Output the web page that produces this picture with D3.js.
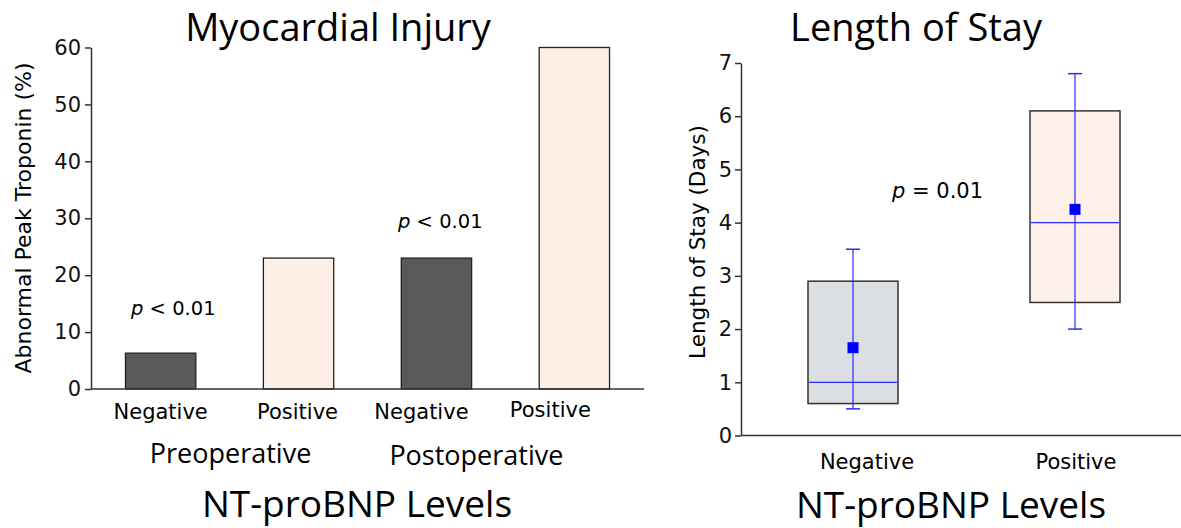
<!DOCTYPE html>
<html>
<head>
<meta charset="utf-8">
<script src="https://cdn.jsdelivr.net/npm/d3@7"></script>
<style>
  body { margin: 0; background: #fff; }
</style>
</head>
<body>
<div id="chart"></div>
<script>
// left panel: percent with abnormal peak troponin
const injuryCats = ["Pre-Neg", "Pre-Pos", "Post-Neg", "Post-Pos"];
const injuryLabels = ["Negative", "Positive", "Negative", "Positive"];
const injuryValues = [6.3, 23, 23, 60];
const injuryGroups = ["Preoperative", "Postoperative"];
const injuryTicks = [0, 10, 20, 30, 40, 50, 60];

// right panel: length of stay boxes
const stayCats = ["Negative", "Positive"];
const stayQ1 = [0.6, 2.5];
const stayQ3 = [2.9, 6.1];
const stayMedian = [1.0, 4.0];
const stayMean = [1.65, 4.25];
const stayMin = [0.5, 2.0];
const stayMax = [3.5, 6.8];
const stayTicks = [0, 1, 2, 3, 4, 5, 6, 7];

const W = 1181, H = 528;
const svg = d3.select("#chart").append("svg")
  .attr("width", W).attr("height", H);

const sans = "'DejaVu Sans', Arial, sans-serif";
const cal = "'Open Sans', 'Noto Sans', sans-serif";
const axisCol = "#333";

// ---------- left chart ----------
const x1 = d3.scaleBand().domain(injuryCats).range([91, 644]).paddingInner(0.49).paddingOuter(0.25);
const y1 = d3.scaleLinear().domain([0, 60]).range([389, 47.5]);

const g1 = svg.append("g");
g1.selectAll("rect.bar")
  .data(injuryValues)
  .enter().append("rect")
  .attr("class", "bar")
  .attr("x", (d, i) => x1(injuryCats[i]))
  .attr("width", x1.bandwidth())
  .attr("y", d => y1(d))
  .attr("height", d => y1(0) - y1(d))
  .attr("fill", (d, i) => i % 2 == 0 ? "#595959" : "#fdefe6")
  .attr("stroke", "#222")
  .attr("stroke-width", 1.3);

const ax1 = g1.append("g")
  .attr("transform", "translate(91,0)")
  .call(d3.axisLeft(y1).tickValues(injuryTicks).tickSize(6).tickPadding(4).tickSizeOuter(0));
ax1.selectAll("text").attr("font-size", 21).attr("font-family", sans).attr("fill", "#111");
ax1.selectAll("line, path").attr("stroke", axisCol).attr("stroke-width", 1.5);

g1.append("line")
  .attr("x1", 91).attr("x2", 644)
  .attr("y1", y1(0)).attr("y2", y1(0))
  .attr("stroke", axisCol).attr("stroke-width", 1.5);

// labels sit a little left of the bars in the original
const catShift = [0, -1, -15, -24];
g1.selectAll("text.cat")
  .data(injuryLabels)
  .enter().append("text")
  .attr("class", "cat")
  .attr("x", (d, i) => x1(injuryCats[i]) + x1.bandwidth() / 2 + catShift[i])
  .attr("y", (d, i) => i < 3 ? 419 : 417)
  .attr("text-anchor", "middle")
  .attr("font-family", sans).attr("font-size", 21)
  .text(d => d);

g1.selectAll("text.grp")
  .data(injuryGroups)
  .enter().append("text")
  .attr("class", "grp")
  .attr("x", (d, i) => (x1(injuryCats[i * 2]) + x1(injuryCats[i * 2 + 1]) + x1.bandwidth()) / 2 + (i == 0 ? 1 : -29))
  .attr("y", (d, i) => 463 + i * 2)
  .attr("text-anchor", "middle")
  .attr("font-family", cal).attr("font-size", 27)
  .text(d => d);

g1.append("text")
  .attr("x", 23).attr("y", 218)
  .attr("transform", "rotate(-90,23,218)")
  .attr("text-anchor", "middle").attr("dy", "0.35em")
  .attr("font-family", sans).attr("font-size", 22)
  .text("Abnormal Peak Troponin (%)");

g1.append("text")
  .attr("x", 338).attr("y", 41)
  .attr("text-anchor", "middle")
  .attr("font-family", cal).attr("font-size", 38)
  .text("Myocardial Injury");

g1.append("text")
  .attr("x", 357).attr("y", 517)
  .attr("text-anchor", "middle")
  .attr("font-family", cal).attr("font-size", 37)
  .text("NT-proBNP Levels");

function pText(g, x, y, rest, size) {
  const t = g.append("text").attr("x", x).attr("y", y)
    .attr("font-family", sans).attr("font-size", size);
  t.append("tspan").attr("font-style", "italic").text("p");
  t.append("tspan").text(rest);
}
pText(g1, 131, 315, " < 0.01", 19.5);
pText(g1, 398, 228, " < 0.01", 19.5);

// ---------- right chart ----------
const x2 = d3.scalePoint().domain(stayCats).range([853, 1075]);
const y2 = d3.scaleLinear().domain([0, 7]).range([435.5, 63]);
const g2 = svg.append("g");
const bw = 90;
const cx = i => x2(stayCats[i]);
const blue = "#2a2aff";

g2.selectAll("rect.box")
  .data(stayCats)
  .enter().append("rect")
  .attr("class", "box")
  .attr("x", d => x2(d) - bw / 2)
  .attr("width", bw)
  .attr("y", (d, i) => y2(stayQ3[i]))
  .attr("height", (d, i) => y2(stayQ1[i]) - y2(stayQ3[i]))
  .attr("fill", (d, i) => i == 0 ? "#dbdee3" : "#fdf0e8")
  .attr("stroke", "#333").attr("stroke-width", 1.5);

g2.selectAll("line.med")
  .data(stayMedian)
  .enter().append("line")
  .attr("x1", (d, i) => cx(i) - bw / 2 + 1)
  .attr("x2", (d, i) => cx(i) + bw / 2 - 1)
  .attr("y1", d => y2(d)).attr("y2", d => y2(d))
  .attr("stroke", blue).attr("stroke-width", 1.2);

g2.selectAll("line.whisk")
  .data(stayCats)
  .enter().append("line")
  .attr("x1", (d, i) => cx(i)).attr("x2", (d, i) => cx(i))
  .attr("y1", (d, i) => y2(stayMin[i])).attr("y2", (d, i) => y2(stayMax[i]))
  .attr("stroke", blue).attr("stroke-width", 1.2);

[stayMin, stayMax].forEach(arr => {
  g2.selectAll(null)
    .data(arr)
    .enter().append("line")
    .attr("x1", (d, i) => cx(i) - 7).attr("x2", (d, i) => cx(i) + 7)
    .attr("y1", d => y2(d)).attr("y2", d => y2(d))
    .attr("stroke", blue).attr("stroke-width", 1.5);
});

g2.selectAll("rect.mean")
  .data(stayMean)
  .enter().append("rect")
  .attr("x", (d, i) => cx(i) - 5.5)
  .attr("y", d => y2(d) - 5.5)
  .attr("width", 11).attr("height", 11)
  .attr("fill", "#0000ff");

const ax2 = g2.append("g")
  .attr("transform", "translate(741,0)")
  .call(d3.axisLeft(y2).tickValues(stayTicks).tickFormat(d3.format("d"))
    .tickSize(6).tickPadding(3).tickSizeOuter(0));
ax2.selectAll("text").attr("font-size", 21).attr("font-family", sans).attr("fill", "#111");
ax2.selectAll("line, path").attr("stroke", axisCol).attr("stroke-width", 1.5);

g2.append("line")
  .attr("x1", 741).attr("x2", 1181)
  .attr("y1", y2(0)).attr("y2", y2(0))
  .attr("stroke", axisCol).attr("stroke-width", 1.5);

g2.selectAll("text.cat")
  .data(stayCats)
  .enter().append("text")
  .attr("x", (d, i) => cx(i) + (i == 0 ? 14 : 1))
  .attr("y", 469)
  .attr("text-anchor", "middle")
  .attr("font-family", sans).attr("font-size", 21)
  .text(d => d);

g2.append("text")
  .attr("x", 697).attr("y", 242)
  .attr("transform", "rotate(-90,697,242)")
  .attr("text-anchor", "middle").attr("dy", "0.35em")
  .attr("font-family", sans).attr("font-size", 21.5)
  .text("Length of Stay (Days)");

g2.append("text")
  .attr("x", 916).attr("y", 41)
  .attr("text-anchor", "middle")
  .attr("font-family", cal).attr("font-size", 38)
  .text("Length of Stay");

g2.append("text")
  .attr("x", 951).attr("y", 518)
  .attr("text-anchor", "middle")
  .attr("font-family", cal).attr("font-size", 37)
  .text("NT-proBNP Levels");

pText(g2, 892, 198, " = 0.01", 21);
</script>
</body>
</html>
